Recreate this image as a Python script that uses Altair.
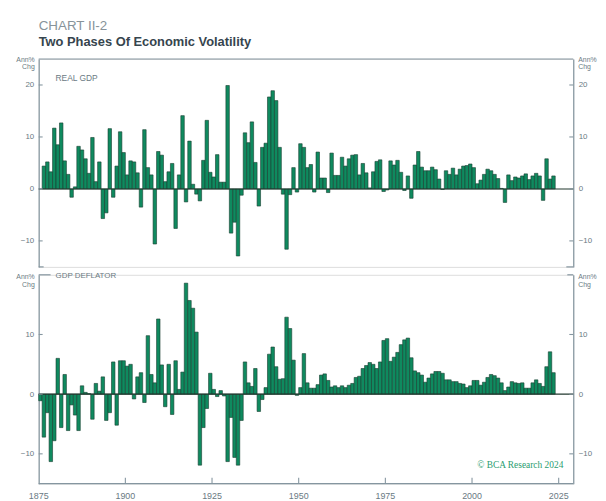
import altair as alt
import pandas as pd

# ---------------- data ----------------
gdp_years = list(range(1876, 2024))
real_gdp = [
    4.4, 5.2, 3.3, 11.7, 8.5, 12.7, 5.4, 2.8, -1.6, 0.4,
    8.2, 7.5, 5.8, 3.0, 9.9, 1.4, 5.2, -5.7, -4.6, 11.6,
    -1.6, 4.4, 11.0, 7.0, 2.7, 5.4, 5.2, 3.1, -3.5, 11.4,
    4.1, 2.7, -10.6, 7.2, 6.5, 1.4, 3.3, 4.9, -7.6, 2.7,
    14.1, -2.5, 9.2, 0.9, -1.0, -2.3, 5.5, 13.2, 3.2, 2.3,
    6.6, 1.3, 1.3, 19.9,
    -8.5, -6.4, -12.9, -1.2, 10.8, 8.9, 12.9, 5.1, -3.3, 8.0,
    8.8, 17.7, 18.9, 17.0, 8.0, -1.0, -11.6, -1.1, 4.1, -0.6,
    8.7, 8.0, 4.1,
    4.7, -0.6, 7.1, 2.1, 2.1, -0.7, 6.9, 2.6, 2.6, 6.1,
    4.4, 5.8, 6.5, 6.6, 2.7, 4.9, 3.1, 0.2, 3.3, 5.3,
    5.6, -0.5, -0.2, 5.4, 4.6, 5.5, 3.2, -0.3, 2.5, -1.8,
    4.6, 7.2, 4.2, 3.5, 3.5, 4.2, 3.7, 1.9, -0.1, 3.5,
    2.8, 4.0, 2.7, 3.8, 4.4, 4.5, 4.8, 4.1, 1.0, 1.7,
    2.8, 3.8, 3.5, 2.8, 2.0, 0.1, -2.6, 2.7, 1.6, 2.3,
    2.1, 2.5, 2.9, 1.8, 2.5, 3.0, 2.5, -2.2, 5.8, 1.9,
    2.5,
]

defl_years = list(range(1875, 2024))
gdp_deflator = [
    -1.1, -7.2, -3.1, -11.3, -7.8, 6.0, -5.6, 3.3, -6.1, -1.8,
    -3.5, -6.1, 1.4, 0.3, 0.1, -4.2, 1.8, 0.5, 2.9, -4.4,
    -3.1, 5.4, -5.2, 5.6, 5.6, 4.7, 5.0, -0.8, 2.9, 3.6,
    -1.4, 9.8, 3.3, 1.9, 12.6, 4.9, -2.1, 5.0, -3.4, 5.6,
    0.8, 3.7, 18.6, 15.7, 14.4, 10.4, -11.9, -5.6, -2.4, 3.5,
    0.8, -0.4, 0.6, -0.3, -11.3, -3.9, -10.6, -11.9, -4.4, 5.4,
    1.9, 1.3, 4.3, -2.9, -0.9, 1.1, 6.7, 7.9, 4.6, 2.5,
    2.6, 12.9, 11.0, 5.7, -0.2,
    1.1, 6.8, 1.9, 1.0, 1.0, 1.6, 3.2, 3.4, 2.3, 1.2,
    1.4, 1.1, 1.4, 1.1, 1.5, 1.8, 2.8, 3.0, 4.3, 4.8,
    5.3, 5.0, 4.3, 5.4, 9.0, 9.3, 5.5, 6.2, 7.0, 8.3,
    9.1, 9.4, 6.1, 3.9, 3.6, 3.2, 2.0, 2.7, 3.4, 3.8,
    3.8, 3.5, 2.4, 2.4, 2.1, 2.1, 1.8, 1.7, 1.1, 1.4,
    2.3, 2.3, 1.5, 2.0, 2.8, 3.3, 3.1, 2.7, 1.9, 0.6,
    1.2, 2.1, 1.9, 1.8, 1.9, 1.0, 1.0, 1.9, 2.4, 1.8,
    1.3, 4.6, 7.1, 3.6,
]

x_tick_years = [1875, 1900, 1925, 1950, 1975, 2000, 2025]
top_ticks = [-10, 0, 10, 20]
bottom_ticks = [-10, 0, 10]
top_domain = [-15, 25]
bottom_domain = [-15, 20]
x_domain = [1875, 2029.2]

# ---------------- style ----------------
W = 540
H1 = 210
H2 = 211
AXIS = "#8596a0"
LABEL = "#6a7a83"
FILL = "#0f8a5f"
EDGE = "#173d30"
ZERO = "#22382f"
FONT = "Liberation Sans, Arial, sans-serif"


def frame_df(n=1):
    return pd.DataFrame({"k": list(range(n))})


def text(t, x, y, size=8, color=LABEL, align="left", weight="normal", font=FONT):
    return alt.Chart(pd.DataFrame({"t": [t]})).mark_text(
        align=align, baseline="alphabetic", fontSize=size, color=color,
        fontWeight=weight, font=font,
    ).encode(text="t:N", x=alt.value(x), y=alt.value(y))


def seg(x1, x2, y, color=AXIS, width=1.2):
    return alt.Chart(frame_df()).mark_rule(color=color, strokeWidth=width).encode(
        x=alt.value(x1), x2=alt.value(x2), y=alt.value(y)
    )


def panel(years, values, ydom, yticks, height, bottom_axis, extras, anchors):
    df = pd.DataFrame({"year": years, "value": values})
    df["year_end"] = df["year"] + 1
    df["zero"] = 0.0
    xscale = alt.Scale(domain=x_domain, nice=False, zero=False)
    yscale = alt.Scale(domain=ydom, nice=False, zero=False)

    common_y_axis = dict(values=yticks, domain=True, domainColor=AXIS, domainWidth=1.2,
                         ticks=False, labelFontSize=8, labelColor=LABEL, labelFont=FONT,
                         labelPadding=5, grid=False, title=None)

    bars = alt.Chart(df).mark_rect(fill=FILL, stroke=EDGE, strokeWidth=0.6).encode(
        x=alt.X("year:Q", scale=xscale, axis=None),
        x2="year_end:Q",
        y=alt.Y("value:Q", scale=yscale, axis=alt.Axis(orient="left", **common_y_axis)),
        y2="zero:Q",
    )
    zero = alt.Chart(pd.DataFrame({"v": [0.0]})).mark_rule(color=ZERO, strokeWidth=1.1).encode(
        y=alt.Y("v:Q", scale=yscale, axis=alt.Axis(orient="right", **common_y_axis)),
        x=alt.value(0), x2=alt.value(W),
    )
    tdf = pd.DataFrame({"v": yticks})
    lt = alt.Chart(tdf).mark_rule(color=AXIS, strokeWidth=1.1).encode(
        y=alt.Y("v:Q", scale=yscale, axis=None), x=alt.value(0), x2=alt.value(4))
    rt = alt.Chart(tdf).mark_rule(color=AXIS, strokeWidth=1.1).encode(
        y=alt.Y("v:Q", scale=yscale, axis=None), x=alt.value(W - 4), x2=alt.value(W))
    layers = list(anchors) + [bars, zero, lt, rt]
    if bottom_axis:
        xdf = pd.DataFrame({"year": x_tick_years})
        xt = alt.Chart(xdf[xdf["year"] > x_tick_years[0]]).mark_rule(
            color=AXIS, strokeWidth=1.1).encode(
            x=alt.X("year:Q", scale=xscale, axis=None),
            y=alt.value(height - 6), y2=alt.value(height))
        xl = alt.Chart(xdf).mark_text(
            baseline="top", align="center", fontSize=9, color=LABEL, font=FONT).encode(
            x=alt.X("year:Q", scale=xscale, axis=None),
            y=alt.value(height + 8),
            text=alt.Text("year:Q", format="d"))
        layers += [xt, xl, seg(0, W, height)]
    layers += extras
    return alt.layer(*layers).resolve_axis(y="independent").properties(width=W, height=height)


# invisible (white) layout anchors: fix the page position of the plot areas
top_anchor = [seg(-30, W + 20, -48, color="white", width=0.01)]
bottom_anchor = [seg(-30, W + 20, H2 + 12, color="white", width=0.01)]

top_extras = [
    seg(0, W, 0), seg(0, 5, H1), seg(W - 7, W, H1),
    text("CHART II-2", 0, -29.5, size=13.5, color="#87939a"),
    text("Two Phases Of Economic Volatility", 0, -13, size=13, color="#36454e", weight="bold"),
    text("Ann%", -4, 3, size=7, align="right"),
    text("Chg", -4, 10.5, size=7, align="right"),
    text("Ann%", W + 5, 3, size=7),
    text("Chg", W + 5, 10.5, size=7),
    text("REAL GDP", 17, 22, size=8.5),
]
bottom_extras = [
    seg(0, 12, 0), seg(W - 6, W, 0),
    text("Ann%", -4, 4, size=7, align="right"),
    text("Chg", -4, 12, size=7, align="right"),
    text("Ann%", W + 5, 4, size=7),
    text("Chg", W + 5, 12, size=7),
    text("GDP DEFLATOR", 17, 3.5, size=8),
    text("\u00a9 BCA Research 2024", 530, 195, size=9.5, color="#2a9d70",
         align="right", font="Liberation Serif, Times New Roman, serif"),
]

top = panel(gdp_years, real_gdp, top_domain, top_ticks, H1, False, top_extras, top_anchor)
bottom = panel(defl_years, gdp_deflator, bottom_domain, bottom_ticks, H2, True, bottom_extras, bottom_anchor)

chart = alt.vconcat(top, bottom, spacing=3).properties(
    padding=0,
).configure_view(stroke=None).configure(background="white")

chart.save("out.html", embed_options={"renderer": "svg", "actions": False})
